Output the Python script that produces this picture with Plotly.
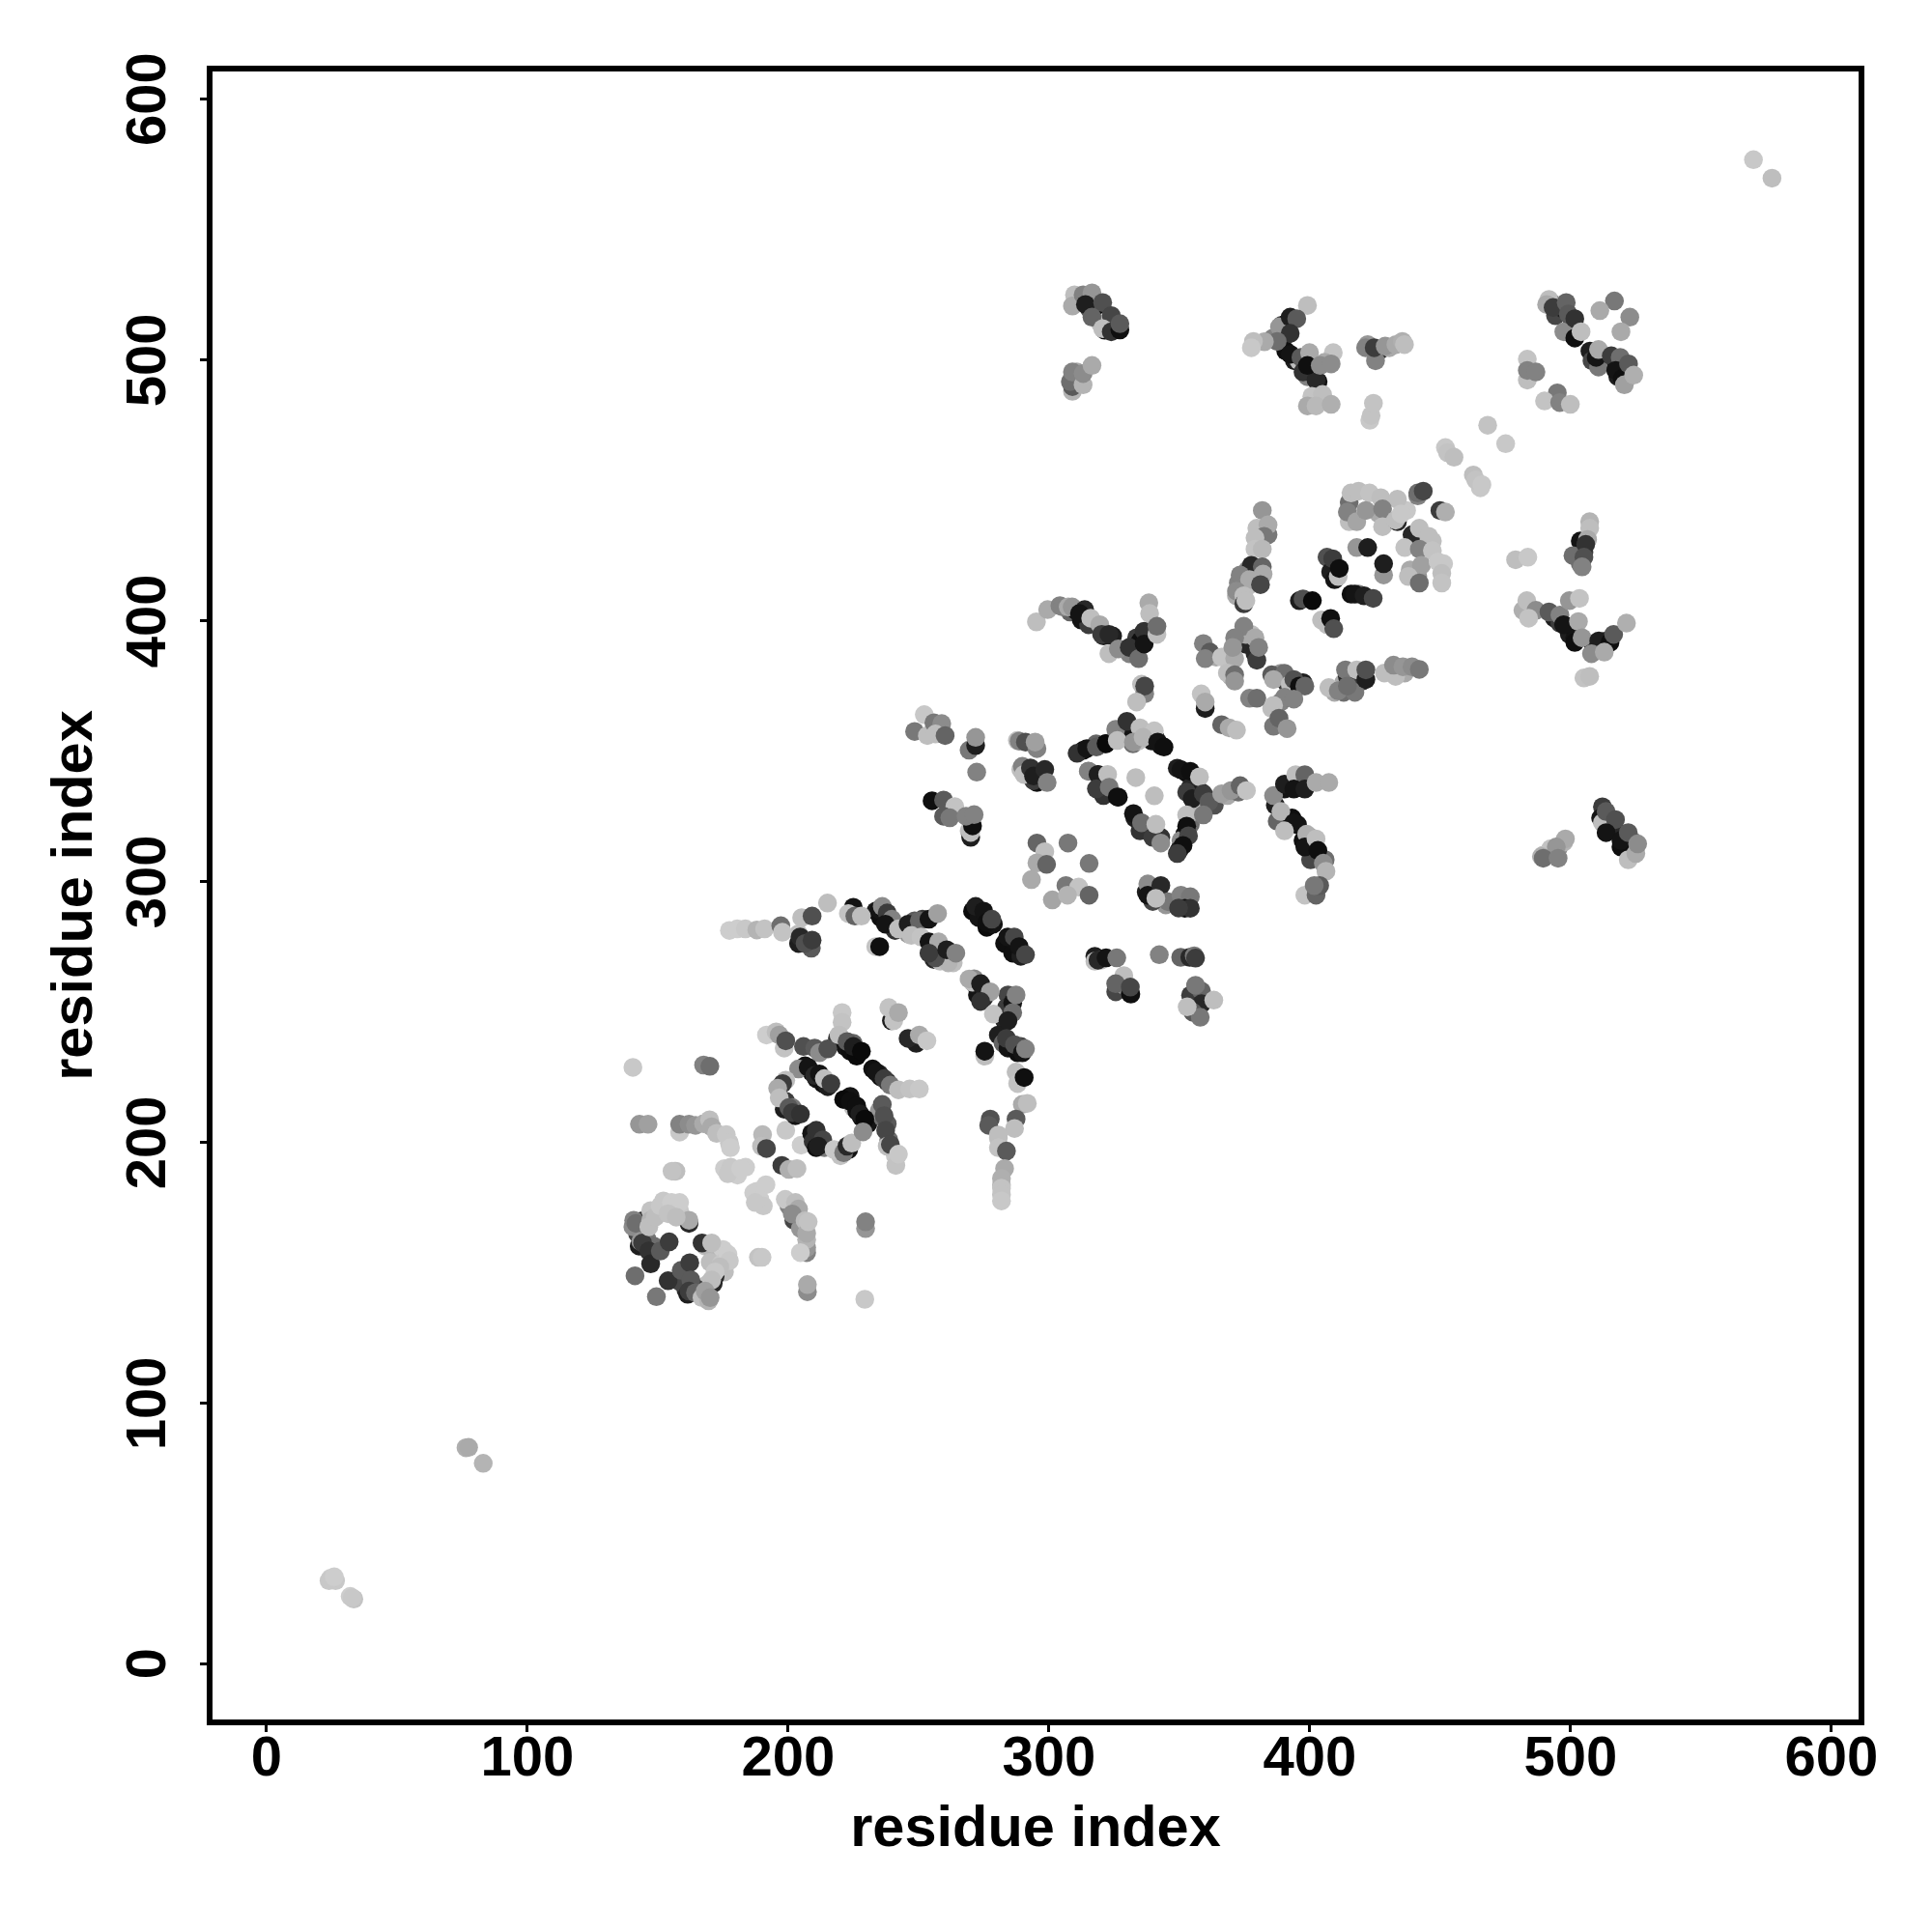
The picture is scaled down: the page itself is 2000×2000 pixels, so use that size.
import plotly.graph_objects as go

# (residue i, residue j, shade)
corners = [(570.1,576.8,200),(577.2,569.7,190),(76.5,83,175),(77.5,83.1,170),(83.1,77,180),
 (24.6,33,205),(26.5,32,200),(24,32,200),(26,33.5,205),(32.1,26,205),(33.5,25,195),(32.8,25.5,200)]
lower_left = [(140.5,228.8,200),(167.6,229.7,130),(170,229.2,110),(143,207,150),(146.3,207,160),
 (158.4,204,200),(158.4,207,130),(162,207,140),(164.5,206.6,150),(167.6,207.2,170),(169.9,208.7,190),(170.7,206,170),(172.6,203.5,190),(176.3,203,200),(177.5,199.8,200),(177.9,198,205),
 (156.4,189,190),(157,189,190),(155.5,189,195),(175.6,190,205),(178,190.5,200),(180.6,187.5,205),(183.7,190.5,205),(176.9,188,200),(181.8,190,205),
 (190.2,203,185),(189.8,198.6,190),(191.7,197.7,70),(199.1,204.7,200),(205,199,205),(197.6,191.2,60),(200.3,189.7,175),(203.4,190,190),
 (186.8,180.7,205),(188,181.3,205),(191.5,183.8,205),(189.2,178.2,205),(190.5,175.7,200),(187.4,177,200),
 (200.3,175.7,130),(202.2,170.2,70),(204.7,167.1,150),
 (198.9,178.2,200),(202.8,177,190),(204,174.5,170),(201.6,172.6,140),(206.5,170,190),(207.1,157.8,130),(207.1,159.7,150),(207.1,162.8,180),(207.1,165.2,170),(207.7,169.6,195),(204.7,157.8,205),
 (188.6,156,195),(190,156,200),(229.7,167,150),(229.7,169.6,130),(229.4,139.9,200),(207.4,142.8,140),(207.4,145.5,170)]
ring_dense = [(144.2,170,40),(142.3,165,70),(140.5,167.7,140),(142.9,160.3,30),(146,162.8,120),(148.5,160.3,110),(147.3,173.9,195),(152.2,177.6,200),(153.4,174.5,195),(158.4,173.9,200),
 (168.2,160.3,190),(170.7,159,180),(175,159,205),(170.1,154.1,190),(175.6,150.4,190),(174.4,153.5,200),(172,148.6,40),(168.9,145.5,190),(164.5,144.2,60),(160.8,143.6,50),(158.4,146.7,70),(161.5,141.8,30),(166.4,141.8,70)]
ring = [(140.8,170.2,130),(141.7,169,110),(147.3,170.2,180),(143.5,162.1,150),(144.2,161.5,60),(146.6,158.4,50),(147.3,153.5,40),(141.3,148.9,110),(151,158.4,90),(154.4,161.9,60),(149.5,140.9,120),(154,147,50),(159,151,90),(162.3,153.9,60),(162.7,147.3,90),(162,143,60),(164.5,142.4,100),
 (162,169,40),(162,170.2,170),(146.6,167.7,190),(149.1,171.4,190),(151,175.7,200),(155.3,177,205),(158.4,177,205),(154,172.7,195),(157.1,171.4,190),
 (167,161.5,50),(170.7,161.5,190),(171.3,146,40),(176.9,157.2,205),(177.5,154.7,200),(173.8,152.3,190),(172,150.4,200),(170.7,147.3,190),(167,140.5,190),(169.5,139.3,180),(168.2,143,160),(170.1,140.5,150)]
diamond_dense = [(206.5,229.4,20),(209,227,15),(210.8,224.5,20),(213.3,222.6,15),(215.2,221.4,30),(223.8,217.7,20),(221.3,216.5,10),(225,213.4,190),(226.3,212.1,15),(228.1,209.7,15),(230.6,207.2,20),(232.4,228.2,15),(235.5,225.1,15),(238,223.3,30),(234.9,226.3,40),
 (218.9,239.9,50),(221.9,236.8,20),(223.8,235,15),(226.3,233.1,10),(225,238,100),(199.1,215.8,60),(198.5,212.8,30),(201.6,213.4,120),(202.8,210.3,20),
 (209,203.5,20),(209.6,200.4,50),(210.8,198,15),(213.9,198,120),(220.1,194.9,195),(223.2,197.3,20),(236.1,209.7,110),(234.9,212.1,150),(238,207.2,90),(238.6,201,110),(241.1,194.9,200)]
diamond = [(191.7,241.2,205),(195.4,242.4,190),(196.6,241.2,160),(198.5,236.2,195),(199.1,239,80),
 (205.9,236.8,80),(210.2,236.2,90),(212,234.4,140),(215.2,235.9,80),
 (204,228.2,140),(207.7,228.8,20),(210.2,225.7,40),(212,226.3,20),(213.9,224.5,190),(216.4,222.6,60),
 (199.1,223.9,190),(197.9,222.6,60),(196,220.8,170),(196.6,217.1,190),(200.3,213.4,90),(201.6,211.5,60),(204.7,210.9,50),
 (220.7,249.8,200),(220.7,246.1,195),(219.5,241.2,190),(222.6,238.7,90),(225,236.8,30),(228.1,235,10),
 (233.7,227,20),(236.8,224.5,60),(239.2,222,120),(242.3,220.2,190),(246.6,220.5,195),(250.3,220.5,200),
 (223.8,215.8,15),(226.3,214,15),(227.5,211,30),(229.4,209,10),(236.1,214.6,90),(236.8,210.3,80),(237.4,204.7,70),(238,198.6,190),(239.2,199.2,70),(241.3,191.2,195),(242.3,195.5,200),
 (210.8,204.7,50),(213.3,201,70),(211.5,198.6,30),(217.6,197.3,200),(221.3,196.1,120),(222.6,198.6,40),(224.4,199.8,190),(228.7,204.1,140),
 (239.6,246.7,30),(238.6,251.7,195),(240.5,246.7,195),(242.3,249.8,170),(249.1,238,30),(246,239.9,40),(250.3,241.2,170),(253.2,239,200)]
stem_dense = [(271.9,260.3,120),(272.6,256.6,20),(275,255.4,40),(270.7,261.5,190),(284.3,256.6,70),(283.7,251.7,60),(283,246.7,40),(280.6,241.2,30),(282.4,238.1,100),(284.3,236.2,20),(288,234.4,15),(289.2,236.8,70),(280.6,201.7,190),(281.8,183.7,185)]
stem = [(271.3,262.8,140),(269.4,262.7,170),(273.8,260.9,30),(277.5,257.8,160),(273.8,254.1,50),(278.7,249.2,195),(286.1,253.5,20),(286.1,249.8,110),(287.4,256.6,130),(284.3,246.7,30),
 (283.7,239.9,60),(286.8,237.5,80),(289.8,234.4,20),(291,235.9,130),(275.4,233.1,190),(275.4,235,20),(287.4,227,190),(288,222.6,195),(290.5,224.9,15),(289.8,214.6,170),(291.7,215,190),
 (277.5,209,80),(276.9,206.6,90),(287.4,209,90),(286.8,205.4,190),(280.6,202.9,190),(280.6,198,195),(283.7,196.7,90),(283,190,170),(281.8,186.2,175),(281.8,182.5,195),(281.8,180,195),(281.8,177.6,200)]
mid_left = [(291.7,341.8,20),(295.4,338,15),(294.1,338.7,60),(289.2,343,190),(287.9,354.1,190),
 (252.2,364,200),(248.5,357.6,120),(253.4,356,190),(255.9,360.9,120),(258.9,360.6,140),(256.5,356.6,190),(260.2,356,100),
 (269.4,350.4,120),(271.9,352.2,30),(271.9,355.3,150),(272.3,342,130),
 (288.6,353.9,130),(291,353.5,80),(295.4,351,130),(294.7,353.5,160),
 (289.8,344.2,130),(290.4,341.1,190),(292.9,343.6,50),(294.1,340.5,30),(298.4,343,40),(299.3,338,130),
 (255.2,331,15),(259.6,331.3,90),(263.9,328.8,195),(259.6,325.1,90),(262,324.5,120),(269.4,319.5,190),(270,317,30),(270,318.9,190),(270.7,321.4,15),(268.2,325.1,130),(271.3,325.7,130)]
diamond2_dense = [(313.1,350.3,15),(318.1,352.8,100),(321.6,352.8,15),(325.9,357.7,130),(329.4,360.2,40),(331.5,357.7,20),(339.3,354,20),(342.9,352.2,15),(340.7,355.3,60),(332.2,352.8,110),(334.4,354,190),
 (315.2,342.3,120),(318.8,341,60),(323,335.5,110),(320.9,333,50),(326.6,332.4,15),(332.9,324.4,30),(335.8,321.3,70),(339.3,318.3,40),(342.9,317,50),
 (349.2,343.5,30),(352.8,341.7,15),(356.3,338,120),(354.2,336.1,40),(358.4,334.3,30),(362,331.2,50),(363.4,329.3,80),(368.4,333,170),(372.6,334.3,110),
 (354.2,321.9,110),(352.1,318.3,20),(350.6,315.8,140),(349.9,312.1,30),(355.6,326.9,180)]
diamond2 = [(310.8,349.2,50),(314.5,351,20),(318.2,351.6,90),(321.9,352.9,10),(325.6,358.4,130),(326.2,354.1,190),
 (335.5,375.7,190),(336.7,372,130),(336.7,375,70),(333.6,368.9,190),(329.9,361.5,50),(334.9,359,190),(340.4,357.8,195),(332.4,353.5,150),(336.1,355.3,180),(341.7,353.5,20),(344.1,351.6,15),
 (315.1,342.4,130),(318.8,341.1,30),(322.5,341.1,190),(318.2,335.6,60),(323.1,336.2,120),(326.2,332.5,15),(333.3,339.9,190),(340.4,332.9,190),
 (332.4,326.1,20),(334.9,319.5,50),(335.5,322.6,110),(339.8,317,60),(341,322,190),(342.9,314.8,140),
 (350.6,342.9,20),(354.2,342.3,15),(357.7,340.2,190),(352.8,334.3,60),(354.9,331.8,30),(359.2,333.7,60),(361.3,330.6,90),(366.2,333.7,160),(369.8,334.9,150),(373.3,336.8,100),(375.7,334.9,195),
 (352.8,325.6,190),(359.2,325.6,120),(352.8,321.3,15),(353.5,317.6,70),(351.4,313.9,15),(349.2,310.8,60)]
scatter_mid = [(295.4,314.8,100),(307.3,314.8,120),(298.4,311.5,190),(295.4,307.2,170),(299.1,306.6,100),(315.4,307,120),(293.3,300.8,170),(306.5,298.5,120),(311.4,297.9,195),(315.4,294.8,100),(301.3,293,165),(307.1,294.8,180),
 (337.3,296,30),(341,296,15),(344.8,291.1,150),(339.8,292.4,70),(337.9,299.1,140),(337.9,294.8,20),(342.9,298.5,40),(345.7,292.3,120),(341,293.6,190),
 (350.6,294.8,130),(354.2,294.2,120),(352.1,289.8,15),(354.2,289.8,50),(349.7,289.9,60)]
arm_dense = [(233.6,288.7,30),(235.5,286.2,15),(238.6,283.7,30),(241,281.3,50),(248.5,285,90),(251.5,285.6,60),(246,280,150),(255.9,275.1,20),(255.9,270.2,40),(259.6,272,15),(263.3,268.9,190),
 (270.7,288.7,10),(273.1,286.2,20),(276.2,282.5,10),(278.7,283.7,20),(283,276.3,15),(286.1,272.6,15),(289.2,271.4,30),(204,280,190),(204,276.3,30),(208.9,274.5,90),
 (317.6,271.4,30),(320,269.9,190),(325.6,257.8,70),(328.7,260.3,140),(331.2,257.2,20)]
arm = [(177.5,281.3,205),(180.5,281.9,205),(183.6,281.9,200),(188,281.5,180),(191,281.9,195),(197.2,283.1,110),(197.8,280.6,195),
 (204.6,278.8,40),(206.5,276.3,80),(209.2,277.6,60),(205.2,286.2,190),(209.2,286.8,80),(215.1,291.8,190),
 (225,290.2,20),(223.1,287.8,195),(225.6,286.8,100),(228.1,286.8,190),
 (234.9,289.3,20),(236.1,290.5,140),(238,288,60),(239.8,285.6,130),(237.3,283.7,20),(242.3,281.9,190),(246,283.7,30),(250.3,285,100),(254,285.6,20),(257.3,287.8,160),(247.2,279.4,190),(250.9,278.8,195),
 (233.6,275.1,195),(235.1,275.1,15),
 (258.3,269.5,190),(261.4,268.9,180),(256.5,270.8,80),(254,276.9,20),(257.7,276.9,170),(254,272.6,60),(260.8,273.9,30),(264.3,272.6,130),
 (271.9,290.5,30),(275,288.7,20),(276.2,284.3,15),(278.1,285.6,70),(284.2,278.8,20),(286.7,278.8,70),(288.6,275.1,20),(291,272,70),
 (317.6,269.5,190),(318.8,269.9,40),(321.9,270.8,20),(326,270.8,120),(342.3,272,130),(328.7,264,190),(325.6,260.9,100),(331.4,256.9,15),(331.2,259.6,70),
 (350.5,271,100),(354,271,40),(355.7,271.6,120),(356.2,270.7,60),(354.3,256.5,60),(358.5,258,100),(356.2,260.3,120),(358.5,253.2,40),(355.2,249.9,90),(358,248,120),(363.2,254.6,190),(353,252,190)]
upper_arm = [(308.1,403.4,100),(310.3,404,15),(312.4,400.3,20),(315.2,398.5,60),(320.9,394.2,30),(324.4,394.2,30),(330.8,387.4,130),(333.6,393.5,60),(335.1,392.3,15),
 (295.2,399.6,190),(299.5,404.3,170),(304.2,405.8,130),(305.3,405.3,130),(307.4,405.3,170),(308.9,405.3,150),(313.7,404.3,40),(311.7,402.8,20),(316,401,190),(319.5,398.5,170),(320.2,394.8,60),(323,394.8,40),(323,387.4,190),(326.6,389.2,140),(330.8,389.8,50),(334.4,385.5,110),(336.5,396,50),(336.5,391.1,20),(338.3,406.9,170),(338.6,402.8,190),(341.4,394.8,190),(341.4,397.9,110)]
mid_dense = [(379.7,435.5,190),(384,433,120),(376.2,419.5,140),(374.7,415.8,100),(372.6,414.5,130),(379,415.8,30),(371.9,409.6,170),(376.2,413.3,190),
 (375.5,391,40),(377.6,394.8,190),(375.5,394.8,170),(379,387.4,40),(369.1,384.9,190),(364.1,386.1,170),(369.8,378.7,170),
 (387.5,378.7,30),(391,376.3,60),(388.9,379.9,150),(397.4,376.3,30),(388.9,368.9,130),(391.8,370.7,110),(385.4,366.4,190),
 (413,376.3,170),(414.4,378.7,40),(418,378.7,30),(413,372.6,110),(409.5,372.6,170),(420.1,376.9,60),(436.4,380,170)]
mid_cluster = [(381.8,442.3,150),(384,436.8,170),(382.5,432.4,120),(379,431.8,190),(379,427.5,195),(381.8,427.5,185),
 (377.6,421.3,40),(381.8,420.7,100),(382.1,417.9,170),(373.3,417.6,130),(376.9,415.8,170),(381.1,413.9,70),(371.9,411.4,140),(374.7,409.6,190),(374.7,406.5,60),(375.5,407.7,190),
 (359.2,391.3,130),(361.7,388,90),(359.9,385.5,130),(366.2,386.1,195),(371.2,385.5,170),(374.7,397.9,130),(371.2,393.5,130),(379.7,384.9,60),(379,393.5,170),(380.4,389.8,130),(370.5,389.8,150),(368.4,380,190),(371.2,379.3,110),(371.2,376.9,150),
 (385.4,379.3,90),(390.3,379.9,110),(386.1,377.5,170),(392.5,375.7,190),(393.9,377.5,80),(396,375,15),(398.1,375,100),
 (376.9,370.3,130),(379.7,370.3,110),(390.3,370.7,130),(393.9,370,130),(386.1,367.6,190),(386.1,359.6,120),(388.2,362.7,100),(391.3,358.7,150),
 (359.9,366.4,30),(358.4,372,195),(359.9,368.9,170),(366.2,360.2,100),(369.1,359,170),(371.9,358.1,190),
 (407.3,374.4,190),(410.9,373.2,130),(417.3,372.6,120),(413.7,381.2,120),(414.4,375,110),(418,381.2,190),(421.5,377.5,30),(421.5,381.2,80),
 (432.9,378.7,190),(428.6,380,190),(432.1,383,140),(435.7,382.4,150),(439.2,382.4,140),(442,381.4,120)]
right_stem = [(390.3,335.5,20),(396,336.1,15),(386.8,329.3,30),(387.5,323.2,100),(393.2,324.4,15),(395.3,321.9,20),(397.4,315.8,15),(400.3,317,150),(400.3,308.4,70),(405.9,308.4,110),
 (386.1,333,140),(390.3,337.4,30),(394.6,341,190),(398.1,341,100),(393.9,335.5,20),(398.1,335.5,30),(402.4,338,170),(407.3,338,170),
 (388.9,326.9,180),(393.9,322.6,20),(390.3,319.5,190),(398.8,318.2,175),(398.1,313.3,20),(402.4,316.4,190),(403.1,312,15),(405.2,307.1,140),(406.2,304,180),(398.1,294.8,195),(402.4,294.8,100),(403.8,298.5,90),(401.7,298.5,120)]
far_right_dense = [(512.2,328.7,60),(511.5,324.4,20),(515.1,321.9,60),(519.3,318.4,40),(523.5,315.8,120),(519.3,313.3,15),(489.5,310.2,190),(495.2,312.7,140),(497.3,315.1,180),
 (503.7,430.6,20),(507.3,438,180),(505.1,426.3,60),(503.7,421.9,110),
 (493.8,401,30),(497.3,398.5,15),(495.9,399.1,60),(499.5,394.8,30),(501.6,393.5,20),(508.6,391.1,15),(513.6,392.3,50),(510.1,389.8,40),(481.7,404,175)]
far_right = [(498,316.4,170),(492.4,312.7,195),(494.5,313.3,150),(488.8,309.6,175),(489.5,309,110),(495.2,309,130),
 (512.2,322.6,190),(513.6,326.9,90),(517.2,323.8,80),(513.6,318.8,20),(519.3,315.8,20),(522.1,318.8,90),(522.1,308.4,190),(525,310.8,170),(525.7,314.5,140),
 (478.9,423.4,190),(483.6,424.4,200),(507.3,435.5,190),(506.5,431.2,170),(500.9,425,110),(505.8,429.3,50),(505.1,424.4,80),(504.4,420.7,130),
 (483.2,407.7,190),(486.7,404,140),(483.9,401,195),(491.7,403.4,90),(495.9,402.2,130),(497.3,398.5,20),(499.5,407.7,150),(503.4,408.6,195),(503,399.7,170),(501.6,391.7,15),(504.4,393.5,150),(510.8,392.3,30),(515.1,391.7,15),(516.5,394.8,90),(521.4,399.1,175),(508,387.4,140),(512.9,388,170),(505.1,378.1,195),(507.3,378.7,190)]
upper_mid = [(415.1,445.4,110),(426.5,441,170),(437.1,442.3,200),(415.1,438,190),(441.4,447.9,130),(447,430.6,190),(451.3,421.9,200),(438.5,419.5,170),(441.4,417,150),
 (406.6,424.4,80),(408,418.8,30),(409.5,415.8,20),(415.8,410.2,15),(418.7,410.2,130),(396,407.7,30),(404.5,400.3,190),
 (415.8,449,190),(418.7,449.7,190),(422.9,449,195),(427.2,447.2,190),(433.6,446.6,190),(414.4,441.7,130),(418,438,165),(421.5,442.3,150),(427.9,442.9,130),(427.9,436.1,190),(433.6,438,40),(432.9,438.6,190),(435,441,200),
 (441.4,449,110),(443.5,449.7,70),(449.9,442.3,60),(452,441.7,175),(465.4,451,200),
 (439.2,433,40),(442,435.5,190),(445.6,432.4,190),(436.4,428.1,195),(442,427.5,130),(447,426.9,195),(442.8,421.3,160),(449.2,422.6,200),(437.8,417,190),(442,414.5,110),(450.6,418.2,190),(450.6,414.5,195),
 (418,428.1,150),(422.2,428.1,30),(428.3,417.6,150),(428.3,421.9,30),(408.8,423.8,60),(410.9,417,190),(411.3,420.1,15),
 (397.4,408.4,80),(401,407.7,10),(417.3,410.2,20),(420.8,409.6,30),(424.3,408.6,70),(406.6,398.5,190),(408,400.9,15),(409.2,397,80)]
top_dense = [(314.8,522,50),(318.1,520.7,15),(315.6,519.5,80),(319.8,513.9,190),(321.4,511.4,15),(325.5,512,40),(310.7,495.4,170),
 (389.2,513.3,70),(390.8,513.9,15),(385.9,508.4,130),(390,508.4,70),(390.8,503.4,15),(394.1,499.7,30),(397.4,498.5,15),(395.8,499.7,190),(400.8,494.8,110),(403.2,491.7,20),
 (492.5,521.9,40),(494.2,517,70),(497.4,519.5,30),(500.8,514.5,30),(500,510.2,15),(507.4,503.4,30),(514,499.7,15),(516.5,498.5,15),(518.1,493.6,30),(508.2,499.7,70),
 (422.2,505.9,150),(427.2,504,40),(430.5,504.7,170)]
top_row = [(309.8,525,190),(309,520.7,170),(313.1,525,130),(316.5,525.7,150),(314,521.3,30),(320.6,522,80),(316.5,516.4,100),(323.9,517,70),(320.6,512,190),(323.9,510.8,50),(327.2,511.5,15),(327.2,513.9,90),
 (309,488,180),(309,489.8,90),(308.2,491.7,110),(309,495.4,130),(313.1,490.5,180),(313.1,494.8,140),(316.5,497.9,170),
 (399.1,520.9,190),(388.4,512.7,150),(392.5,516.4,30),(395,515.8,90),(392.5,510.2,50),(387.5,507.1,110),(382.6,507,170),(378.4,507.1,190),(377.6,504.7,200),
 (392.5,502.2,20),(396.6,501,90),(399.9,502.8,170),(409,502.8,195),(399.1,493.6,130),(397.4,495.4,50),(402.4,492.3,40),(399.1,497.9,15),(405.7,499.1,170),(404,497.9,140),(408.2,498.5,140),
 (400.8,486.1,195),(404.9,486.8,190),(399.1,482.4,170),(402.4,482.4,185),(408.2,483,175),
 (425.2,499.7,130),(421.4,504.7,130),(424.7,504.7,60),(428.9,505.3,150),(433,505.9,170),(435.5,507.1,175),(436.3,505.9,190),(423,476.9,200),(423.5,478.7,195),(424.4,483.4,195),
 (468.2,475,195),(475.1,467.9,200),(452,466.4,200),(452.8,464.5,195),(455.3,462.7,190),(462.7,455.9,190),(463.6,454,195),(466,452.2,200),
 (491.7,523.2,190),(490.8,521.3,170),(493.3,520.1,60),(498.3,522,100),(497.4,510.8,140),(499.1,517.6,90),(501.6,515.8,50),(501.6,508.4,15),(504,510.8,190),
 (516.8,522.6,120),(511.2,518.9,170),(522.7,516.4,140),(519.3,510.8,170),
 (483.4,500.3,195),(483.4,492.3,190),(483.4,496,130),(486.7,495.4,130),(494.9,487.4,120),(490,484.3,195),(495.8,483.7,130),(499.9,483,190),
 (510.7,497.3,120),(509.8,501,20),(510.7,504,170),(515.6,501.6,60),(519,501,110),(517.3,496,20),(519.8,492.9,15),(520.6,490.5,160),(522.2,498.5,90),(524.2,494.2,175)]
tick_values = [0, 100, 200, 300, 400, 500, 600]

regions = [corners, lower_left, ring_dense, ring, diamond_dense, diamond, stem_dense, stem, mid_left,
           diamond2_dense, diamond2, scatter_mid, arm_dense, arm, upper_arm, mid_dense, mid_cluster,
           right_stem, far_right_dense, far_right, upper_mid, top_dense, top_row]
points = [p for r in regions for p in r]
res_i = [p[0] for p in points]
res_j = [p[1] for p in points]
shade = [p[2] for p in points]

fig = go.Figure(go.Scatter(x=res_i, y=res_j, mode="markers",
    marker=dict(size=19.5, color=shade, cmin=0, cmax=255,
                colorscale=[[0, "rgb(0,0,0)"], [1, "rgb(255,255,255)"]],
                line=dict(width=0)),
    hoverinfo="skip", showlegend=False))

font = dict(family="Liberation Sans", size=58, color="black", weight="bold")
title_font = dict(font, size=59.5)
axis = dict(showline=True, mirror=True, linecolor="black", linewidth=6, showgrid=False, zeroline=False,
            ticks="outside", ticklen=7, tickwidth=3, tickcolor="black",
            tickvals=tick_values, tickfont=font)
fig.update_layout(width=2000, height=2000, margin=dict(l=220, r=76, t=74, b=220, autoexpand=False),
    paper_bgcolor="white", plot_bgcolor="white", showlegend=False,
    xaxis=dict(axis, range=[-20.67, 610.4], ticklabelstandoff=-25,
               title=dict(text="residue index", font=title_font, standoff=23)),
    yaxis=dict(axis, range=[-21.2, 610.6], showticklabels=False,
               title=dict(text="residue index", font=title_font, standoff=94)))
for v in tick_values:
    fig.add_annotation(text=str(v), xref="paper", yref="y", x=0, y=v, xshift=-69.5, textangle=-90,
                       showarrow=False, font=font, xanchor="center", yanchor="middle")
fig.write_html("out.html", config=dict(displayModeBar=False), post_script="document.body.style.margin='0';")
